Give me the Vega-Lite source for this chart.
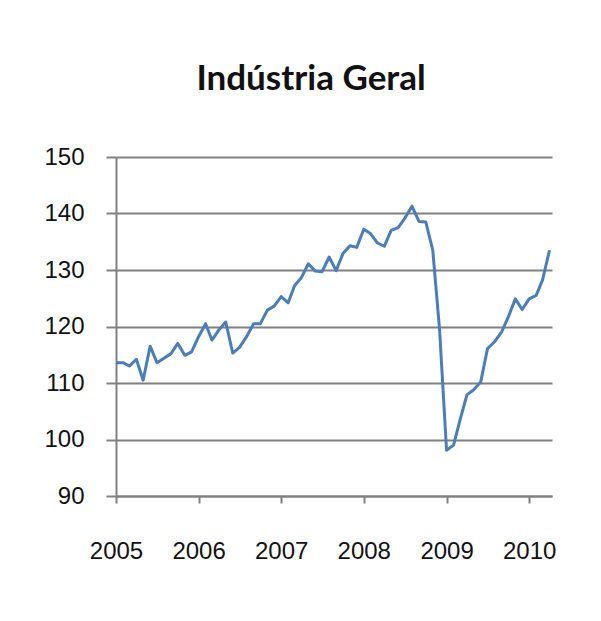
{
  "$schema": "https://vega.github.io/schema/vega-lite/v6.json",
  "width": 436,
  "height": 339,
  "autosize": {"type": "none"},
  "padding": {"left": 116, "top": 157, "right": 49, "bottom": 125},
  "background": "white",
  "title": {
    "text": "Indústria Geral",
    "font": "Lato",
    "fontSize": 35,
    "fontWeight": "bold",
    "color": "#111111",
    "anchor": "middle",
    "frame": "group",
    "dx": -23,
    "baseline": "alphabetic",
    "offset": 20
  },
  "data": {
    "values": [
      {"date": "2005-01-01", "value": 113.6},
      {"date": "2005-02-01", "value": 113.6},
      {"date": "2005-03-01", "value": 113.0},
      {"date": "2005-04-01", "value": 114.2},
      {"date": "2005-05-01", "value": 110.5},
      {"date": "2005-06-01", "value": 116.5},
      {"date": "2005-07-01", "value": 113.6},
      {"date": "2005-08-01", "value": 114.4},
      {"date": "2005-09-01", "value": 115.2},
      {"date": "2005-10-01", "value": 117.0},
      {"date": "2005-11-01", "value": 114.9},
      {"date": "2005-12-01", "value": 115.5},
      {"date": "2006-01-01", "value": 118.2},
      {"date": "2006-02-01", "value": 120.5},
      {"date": "2006-03-01", "value": 117.6},
      {"date": "2006-04-01", "value": 119.4},
      {"date": "2006-05-01", "value": 120.8},
      {"date": "2006-06-01", "value": 115.3},
      {"date": "2006-07-01", "value": 116.3},
      {"date": "2006-08-01", "value": 118.2},
      {"date": "2006-09-01", "value": 120.5},
      {"date": "2006-10-01", "value": 120.5},
      {"date": "2006-11-01", "value": 122.9},
      {"date": "2006-12-01", "value": 123.6},
      {"date": "2007-01-01", "value": 125.3},
      {"date": "2007-02-01", "value": 124.2},
      {"date": "2007-03-01", "value": 127.2},
      {"date": "2007-04-01", "value": 128.7},
      {"date": "2007-05-01", "value": 131.1},
      {"date": "2007-06-01", "value": 129.8},
      {"date": "2007-07-01", "value": 129.7},
      {"date": "2007-08-01", "value": 132.3},
      {"date": "2007-09-01", "value": 129.9},
      {"date": "2007-10-01", "value": 132.9},
      {"date": "2007-11-01", "value": 134.3},
      {"date": "2007-12-01", "value": 134.0},
      {"date": "2008-01-01", "value": 137.2},
      {"date": "2008-02-01", "value": 136.4},
      {"date": "2008-03-01", "value": 134.8},
      {"date": "2008-04-01", "value": 134.2},
      {"date": "2008-05-01", "value": 137.0},
      {"date": "2008-06-01", "value": 137.5},
      {"date": "2008-07-01", "value": 139.2},
      {"date": "2008-08-01", "value": 141.3},
      {"date": "2008-09-01", "value": 138.6},
      {"date": "2008-10-01", "value": 138.5},
      {"date": "2008-11-01", "value": 133.5},
      {"date": "2008-12-01", "value": 119.5},
      {"date": "2009-01-01", "value": 98.1},
      {"date": "2009-02-01", "value": 99.0},
      {"date": "2009-03-01", "value": 103.4},
      {"date": "2009-04-01", "value": 107.9},
      {"date": "2009-05-01", "value": 108.8},
      {"date": "2009-06-01", "value": 110.2},
      {"date": "2009-07-01", "value": 116.1},
      {"date": "2009-08-01", "value": 117.3},
      {"date": "2009-09-01", "value": 119.0},
      {"date": "2009-10-01", "value": 121.7},
      {"date": "2009-11-01", "value": 124.9},
      {"date": "2009-12-01", "value": 123.0},
      {"date": "2010-01-01", "value": 124.9},
      {"date": "2010-02-01", "value": 125.5},
      {"date": "2010-03-01", "value": 128.2},
      {"date": "2010-04-01", "value": 133.5}
    ]
  },
  "mark": {"type": "line", "color": "#4a7dba", "strokeWidth": 3, "strokeJoin": "round", "clip": false},
  "encoding": {
    "x": {
      "field": "date",
      "type": "temporal",
      "scale": {
        "type": "utc",
        "domain": [
          {"year": 2005, "month": 1, "date": 1, "utc": true},
          {"year": 2010, "month": 4, "date": 12, "utc": true}
        ]
      },
      "axis": {
        "title": null,
        "grid": false,
        "format": "%Y",
        "tickCount": {"interval": "year", "step": 1},
        "domain": true,
        "domainColor": "#808080",
        "domainWidth": 2,
        "ticks": true,
        "tickSize": 7,
        "tickColor": "#808080",
        "tickWidth": 2,
        "labelFont": "Liberation Sans",
        "labelFontSize": 24,
        "labelColor": "#111111",
        "labelPadding": 36,
        "labelFlush": false,
        "labelOverlap": false
      }
    },
    "y": {
      "field": "value",
      "type": "quantitative",
      "scale": {"domain": [90, 150], "zero": false, "nice": false},
      "axis": {
        "title": null,
        "values": [90, 100, 110, 120, 130, 140, 150],
        "grid": true,
        "gridColor": "#808080",
        "gridWidth": 2,
        "domain": true,
        "domainColor": "#808080",
        "domainWidth": 2,
        "ticks": true,
        "tickSize": 10,
        "tickColor": "#808080",
        "tickWidth": 2,
        "labelFont": "Liberation Sans",
        "labelFontSize": 24,
        "labelColor": "#111111",
        "labelPadding": 22
      }
    }
  },
  "config": {"view": {"stroke": null}}
}
